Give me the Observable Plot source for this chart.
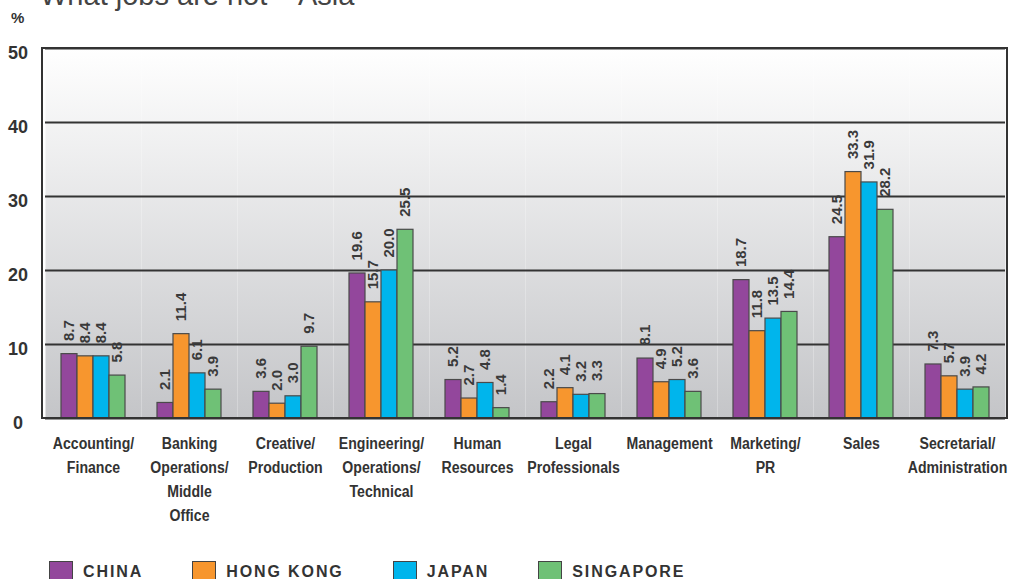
<!DOCTYPE html>
<html>
<head>
<meta charset="utf-8">
<script src="https://cdn.jsdelivr.net/npm/d3@7"></script>
<script src="https://cdn.jsdelivr.net/npm/@observablehq/plot@0.6"></script>
<style>
  html, body { margin: 0; padding: 0; background: #fff; overflow: hidden; }
  body { width: 1015px; height: 579px; position: relative; font-family: "Liberation Sans", Arial, sans-serif; }
  #title { position: absolute; left: 40px; top: -19px; font-size: 29px; line-height: 29px; color: #444; white-space: nowrap; }
  #unit { position: absolute; left: 11px; top: 9px; font-size: 15px; font-weight: bold; color: #333; }
  #chart { position: absolute; left: 0; top: 0; }
  #legend { position: absolute; left: 49px; top: 561px; display: flex; align-items: flex-start; }
  .item { display: flex; align-items: flex-start; margin-right: 49px; }
  .sw { width: 24px; height: 20px; border: 1.5px solid #444; margin-right: 10px; box-sizing: border-box; }
  .lab { font-size: 16px; font-weight: bold; letter-spacing: 1.9px; color: #333; line-height: 20px; padding-top: 1px; }
</style>
</head>
<body>
<div id="title">What jobs are hot – Asia</div>
<div id="unit">%</div>
<div id="chart"></div>
<div id="legend"></div>
<script>
const categories = [
  "Accounting/\nFinance",
  "Banking\nOperations/\nMiddle\nOffice",
  "Creative/\nProduction",
  "Engineering/\nOperations/\nTechnical",
  "Human\nResources",
  "Legal\nProfessionals",
  "Management",
  "Marketing/\nPR",
  "Sales",
  "Secretarial/\nAdministration"
];
const countries = ["CHINA", "HONG KONG", "JAPAN", "SINGAPORE"];
const colors = ["#93479c", "#f7962e", "#00b5ec", "#6fc176"];
const china     = [8.7, 2.1, 3.6, 19.6, 5.2, 2.2, 8.1, 18.7, 24.5, 7.3];
const hongKong  = [8.4, 11.4, 2.0, 15.7, 2.7, 4.1, 4.9, 11.8, 33.3, 5.7];
const japan     = [8.4, 6.1, 3.0, 20.0, 4.8, 3.2, 5.2, 13.5, 31.9, 3.9];
const singapore = [5.8, 3.9, 9.7, 25.5, 1.4, 3.3, 3.6, 14.4, 28.2, 4.2];
const yTicks = [0, 10, 20, 30, 40, 50];
const gridValues = [10, 20, 30, 40];

const series = [china, hongKong, japan, singapore];
const data = [];
categories.forEach((c, i) => {
  countries.forEach((k, j) => {
    data.push({category: c, country: k, value: series[j][i]});
  });
});

const plot = Plot.plot({
  width: 1015,
  height: 545,
  marginLeft: 42,
  marginRight: 8,
  marginTop: 48,
  marginBottom: 127,
  style: {background: "transparent", fontFamily: "'Liberation Sans', Arial, sans-serif"},
  fx: {domain: categories, padding: 0, label: null},
  x: {domain: countries, paddingInner: 0, paddingOuter: 0.84, axis: null},
  y: {domain: [0, 50], label: null},
  color: {domain: countries, range: colors},
  marks: [
    Plot.frame({fill: "url(#bgGrad)", stroke: null}),
    Plot.ruleY(gridValues, {stroke: "#333", strokeWidth: 2}),
    Plot.barY(data, {fx: "category", x: "country", y: "value", fill: "country", stroke: "#4a4a4a", strokeWidth: 1.2}),
    Plot.text(data, {fx: "category", x: "country", y: "value", text: d => d.value.toFixed(1),
      rotate: -90, textAnchor: "start", lineAnchor: "middle", dy: -13,
      fontSize: 15, fontWeight: "bold", fill: "#3a3a3a"}),
    Plot.ruleY([0, 50], {stroke: "#333", strokeWidth: 2}),
    Plot.axisY(yTicks, {tickSize: 0, tickPadding: 27.5, textAnchor: "middle", dy: 5, fontSize: 18, fontWeight: "bold", fill: "#333", label: null}),
    Plot.axisFx({anchor: "bottom", tickSize: 0, tickPadding: 13, lineHeight: 1.42, fontSize: 17, fontWeight: "bold",
      fill: "#333", label: null})
  ]
});

const svg = d3.select(plot);
svg.insert("defs", ":first-child").html(
  '<linearGradient id="bgGrad" x1="0" y1="0" x2="0" y2="1">' +
  '<stop offset="0" stop-color="#ffffff"/>' +
  '<stop offset="1" stop-color="#c4c5c8"/>' +
  '</linearGradient>');
const fxRange = plot.scale("fx").range;
const yRange = plot.scale("y").range;
svg.append("rect")
  .attr("x", fxRange[0]).attr("y", Math.min(...yRange))
  .attr("width", fxRange[1] - fxRange[0]).attr("height", Math.abs(yRange[0] - yRange[1]))
  .attr("fill", "none").attr("stroke", "#333").attr("stroke-width", 2);

// condense the category labels horizontally (narrow bold face)
svg.selectAll('g[aria-label="fx-axis tick label"] text').each(function() {
  const tr = this.getAttribute("transform") || "";
  this.setAttribute("transform", tr + " scale(0.83,1)");
});

document.getElementById("chart").appendChild(plot);

const legend = document.getElementById("legend");
countries.forEach((k, i) => {
  const item = document.createElement("div");
  item.className = "item";
  const sw = document.createElement("div");
  sw.className = "sw";
  sw.style.background = colors[i];
  const lab = document.createElement("div");
  lab.className = "lab";
  lab.textContent = k;
  item.appendChild(sw);
  item.appendChild(lab);
  legend.appendChild(item);
});
</script>
</body>
</html>
